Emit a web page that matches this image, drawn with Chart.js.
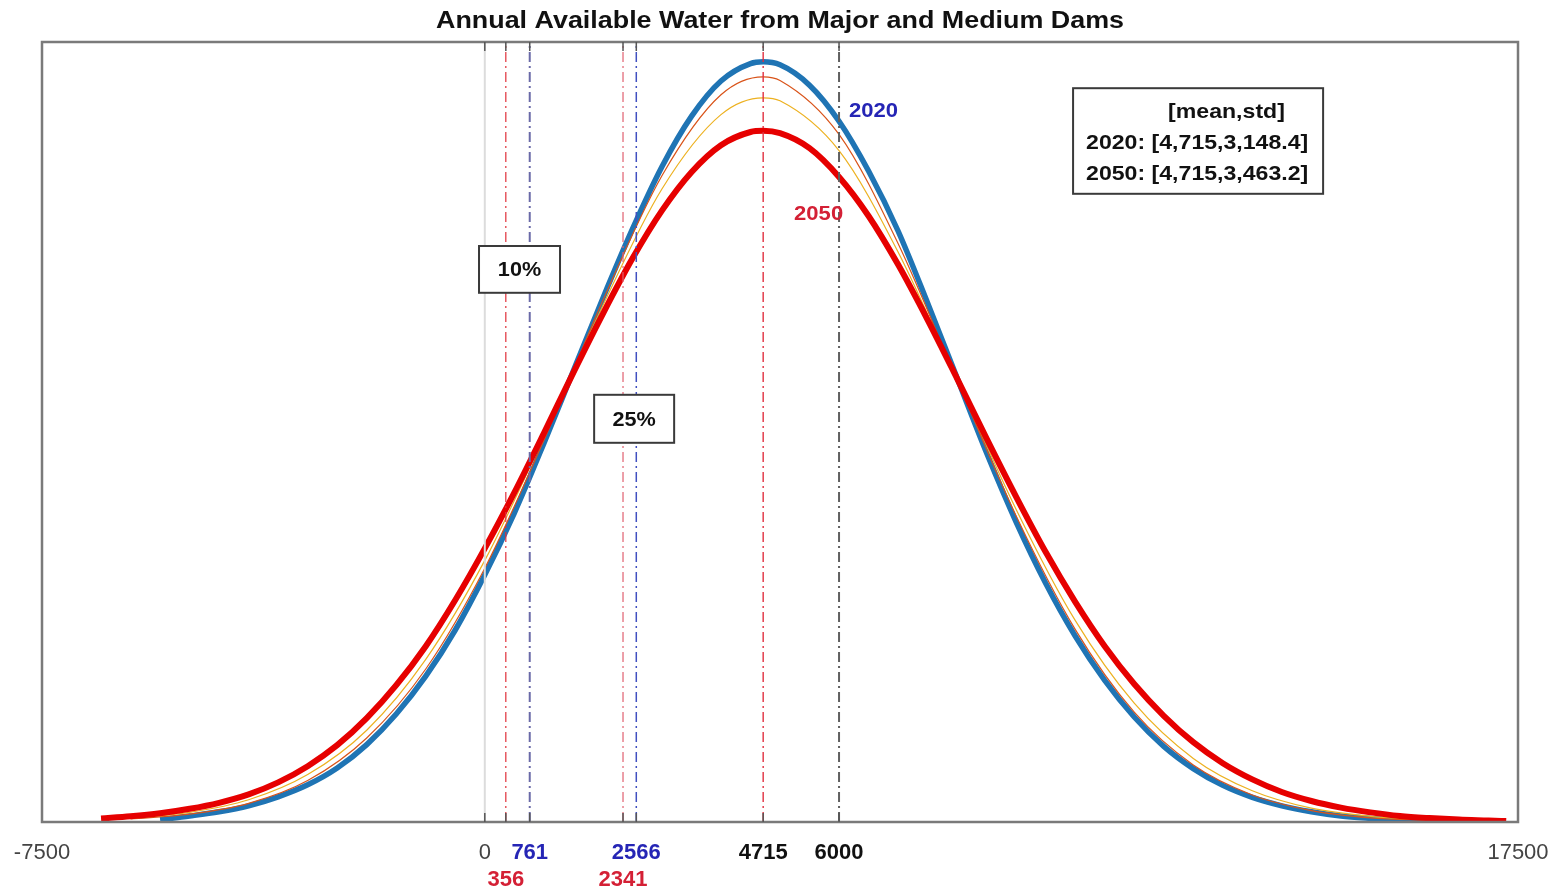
<!DOCTYPE html>
<html>
<head>
<meta charset="utf-8">
<title>Annual Available Water from Major and Medium Dams</title>
<script src="https://cdn.jsdelivr.net/npm/chart.js@4.4.1/dist/chart.umd.min.js"></script>
<style>
  html, body { margin: 0; padding: 0; background: #fff; }
  #wrap { width: 1552px; height: 889px; position: relative; }
</style>
</head>
<body>
<div id="wrap"><canvas id="pdfChart"></canvas></div>
<script>
// density curves, y in units of 1e-6
const x2020 = [-5500, -5000, -4500, -4000, -3500, -3000, -2500, -2000, -1500, -1000, -500, 0, 500, 1000, 1500, 2000, 2500, 3000, 3500, 4000, 4500, 4715, 5000, 5500, 6000, 6500, 7000, 7500, 8000, 8500, 9000, 9500, 10000, 10500, 11000, 11500, 12000, 12500, 13000, 13500, 14000, 14500, 15000, 15500, 16000];
const y2020 = [0.4, 1.0, 1.7, 2.7, 4.2, 6.2, 9.0, 12.9, 18.0, 24.3, 32.0, 41.2, 51.5, 63.1, 75.2, 87.3, 98.8, 109.2, 117.6, 123.5, 126.4, 126.7, 126.2, 122.8, 116.8, 108.5, 98.5, 86.5, 74.0, 61.5, 50.0, 39.8, 31.0, 23.6, 17.5, 12.6, 8.9, 6.1, 4.1, 2.7, 1.7, 1.0, 0.6, 0.3, 0.1];

const x2050 = [-6500, -6000, -5500, -5000, -4500, -4000, -3500, -3000, -2500, -2000, -1500, -1000, -500, 0, 500, 1000, 1500, 2000, 2500, 3000, 3500, 4000, 4500, 4715, 5000, 5500, 6000, 6500, 7000, 7500, 8000, 8500, 9000, 9500, 10000, 10500, 11000, 11500, 12000, 12500, 13000, 13500, 14000, 14500, 15000, 15500, 16000, 16500, 17000, 17300];
const y2050 = [0.6, 0.95, 1.45, 2.2, 3.2, 4.6, 6.6, 9.3, 12.8, 17.3, 22.8, 29.3, 37.0, 45.6, 54.9, 64.8, 74.9, 84.7, 93.9, 101.9, 108.3, 112.8, 115.0, 115.2, 114.8, 112.3, 107.5, 101.0, 92.9, 83.7, 73.9, 63.9, 54.2, 45.0, 36.7, 29.3, 23.0, 17.7, 13.3, 9.8, 7.1, 5.0, 3.5, 2.4, 1.6, 1.0, 0.65, 0.4, 0.25, 0.15];

const xMid = [-6000, -5000, -4000, -3000, -2000, -1000, 0, 1000, 2000, 3000, 4000, 4715, 5000, 6000, 7000, 8000, 9000, 10000, 11000, 12000, 13000, 14000, 15000, 16000];
const yMidA = [0.5, 1.3, 3.1, 6.9, 14.0, 25.5, 42.3, 63.6, 86.9, 107.7, 121.2, 124.2, 123.6, 114.6, 96.4, 73.6, 51.0, 32.1, 18.3, 9.5, 4.5, 1.9, 0.7, 0.25];
const yMidB = [0.6, 1.6, 3.7, 7.9, 15.3, 27.1, 43.6, 64.2, 86.1, 105.5, 117.9, 120.7, 120.2, 111.9, 95.0, 73.7, 52.1, 33.6, 19.8, 10.6, 5.2, 2.3, 0.95, 0.35];

// marker lines and axis ticks
const refValues = [0, 356, 761, 2341, 2566, 4715, 6000];
const tickValues = [-7500, 0, 356, 761, 2341, 2566, 4715, 6000, 17500];
const lowerRowTicks = [356, 2341];

const legendLines = ["[mean,std]", "2020: [4,715,3,148.4]", "2050: [4,715,3,463.2]"];
const pctLabels = ["10%", "25%"];
const yearLabels = ["2020", "2050"];

const FONT = '"Liberation Sans", Arial, sans-serif';

const refStyle = {
  0:    { color: "#dcdcdc", width: 2, dash: [] },
  356:  { color: "#e0303a", width: 1.2, dash: [10, 4, 2, 4] },
  761:  { color: "#6a6aa8", width: 2, dash: [10, 4, 2, 4] },
  2341: { color: "#e06070", width: 1.2, dash: [10, 4, 2, 4] },
  2566: { color: "#4050c0", width: 1.5, dash: [10, 4, 2, 4] },
  4715: { color: "#e03040", width: 1.4, dash: [10, 4, 2, 4] },
  6000: { color: "#606060", width: 2, dash: [10, 4, 2, 4] }
};

const tickStyle = {
  356: "#d42035", 2341: "#d42035",
  761: "#2525b5", 2566: "#2525b5",
  4715: "#111", 6000: "#111"
};

function pts(xs, ys) {
  return xs.map((x, i) => ({ x: x, y: ys[i] }));
}

const refSets = refValues.map(v => ({
  label: "ref " + v,
  data: [{ x: v, y: 0 }, { x: v, y: 130 }],
  borderColor: refStyle[v].color,
  borderWidth: refStyle[v].width,
  borderDash: refStyle[v].dash,
  pointRadius: 0,
  order: 0
}));

const curve = (label, xs, ys, color, width, order) => ({
  label: label,
  data: pts(xs, ys),
  borderColor: color,
  borderWidth: width,
  pointRadius: 0,
  cubicInterpolationMode: "monotone",
  order: order
});

// text drawn slightly stretched sideways, like the original export
function wideText(ctx, str, x, y, stretch) {
  ctx.save();
  ctx.translate(x, y);
  ctx.scale(stretch, 1);
  ctx.fillText(str, 0, 0);
  ctx.restore();
}

// frame, title and text boxes
const decorations = {
  id: "decorations",
  afterDraw(chart) {
    const ctx = chart.ctx;
    const a = chart.chartArea;
    const sx = chart.scales.x, sy = chart.scales.y;
    ctx.save();

    // box around plot
    ctx.strokeStyle = "#7a7a7a";
    ctx.lineWidth = 2.5;
    ctx.strokeRect(a.left, a.top, a.right - a.left, a.bottom - a.top);

    // small inner tick marks
    ctx.strokeStyle = "#555";
    ctx.lineWidth = 1.5;
    tickValues.slice(1, -1).forEach(v => {
      const px = sx.getPixelForValue(v);
      ctx.beginPath();
      ctx.moveTo(px, a.bottom); ctx.lineTo(px, a.bottom - 9);
      ctx.moveTo(px, a.top); ctx.lineTo(px, a.top + 9);
      ctx.stroke();
    });

    // title
    ctx.fillStyle = "#111";
    ctx.font = "bold 24px " + FONT;
    ctx.textAlign = "center";
    ctx.textBaseline = "middle";
    wideText(ctx, "Annual Available Water from Major and Medium Dams", (a.left + a.right) / 2, 21, 1.12);

    // year labels next to curves
    ctx.font = "bold 21px " + FONT;
    ctx.fillStyle = "#2525b5";
    wideText(ctx, yearLabels[0], sx.getPixelForValue(6585), sy.getPixelForValue(118.5), 1.05);
    ctx.fillStyle = "#d42035";
    wideText(ctx, yearLabels[1], sx.getPixelForValue(5654), sy.getPixelForValue(101.3), 1.05);

    function textBox(x0, x1, y0, y1) {
      const l = sx.getPixelForValue(x0), r = sx.getPixelForValue(x1);
      const t = sy.getPixelForValue(y0), b = sy.getPixelForValue(y1);
      ctx.fillStyle = "#fff";
      ctx.fillRect(l, t, r - l, b - t);
      ctx.strokeStyle = "#3a3a3a";
      ctx.lineWidth = 2;
      ctx.strokeRect(l, t, r - l, b - t);
      return { l, r, t, b };
    }

    // percentage boxes
    ctx.font = "bold 21px " + FONT;
    let bx = textBox(-98, 1274, 96, 88.2);
    ctx.fillStyle = "#111";
    wideText(ctx, pctLabels[0], (bx.l + bx.r) / 2, (bx.t + bx.b) / 2 + 1, 1.03);
    bx = textBox(1852, 3207, 71.2, 63.2);
    ctx.fillStyle = "#111";
    wideText(ctx, pctLabels[1], (bx.l + bx.r) / 2, (bx.t + bx.b) / 2 + 1, 1.03);

    // mean/std box
    bx = textBox(9964, 14199, 122.3, 104.7);
    ctx.fillStyle = "#111";
    ctx.font = "bold 21px " + FONT;
    ctx.textAlign = "left";
    wideText(ctx, legendLines[0], bx.l + 95, bx.t + 24, 1.1);
    wideText(ctx, legendLines[1], bx.l + 13, bx.t + 55, 1.1);
    wideText(ctx, legendLines[2], bx.l + 13, bx.t + 86, 1.1);

    ctx.restore();
  }
};

const tickVal = c => (c && c.tick ? c.tick.value : null);

new Chart(document.getElementById("pdfChart").getContext("2d"), {
  type: "line",
  data: {
    datasets: [
      ...refSets,
      curve("2050", x2050, y2050, "#e60000", 6, 1),
      curve("mid b", xMid, yMidB, "#edb120", 1.2, 2),
      curve("mid a", xMid, yMidA, "#d95319", 1.2, 3),
      curve("2020", x2020, y2020, "#1f74b4", 5.5, 4)
    ]
  },
  options: {
    responsive: true,
    maintainAspectRatio: false,
    animation: false,
    layout: { padding: { left: 42, right: 34, top: 42, bottom: 0 } },
    plugins: {
      legend: { display: false },
      tooltip: { enabled: false }
    },
    scales: {
      x: {
        type: "linear",
        min: -7500,
        max: 17500,
        afterBuildTicks: axis => {
          axis.ticks = tickValues.map(v => ({ value: v }));
        },
        afterFit: axis => {
          axis.height = 67;
          axis.paddingLeft = 0;
          axis.paddingRight = 0;
        },
        grid: { display: false },
        border: { display: false },
        ticks: {
          autoSkip: false,
          maxRotation: 0,
          padding: 9,
          font: c => ({
            family: FONT,
            size: 22,
            weight: tickStyle[tickVal(c)] ? "bold" : "normal",
            lineHeight: 1.25
          }),
          color: c => tickStyle[tickVal(c)] || "#444",
          callback: v => lowerRowTicks.includes(v) ? ["", String(v)] : String(v)
        }
      },
      y: {
        type: "linear",
        min: 0,
        max: 130,
        display: false
      }
    }
  },
  plugins: [decorations]
});
</script>
</body>
</html>
